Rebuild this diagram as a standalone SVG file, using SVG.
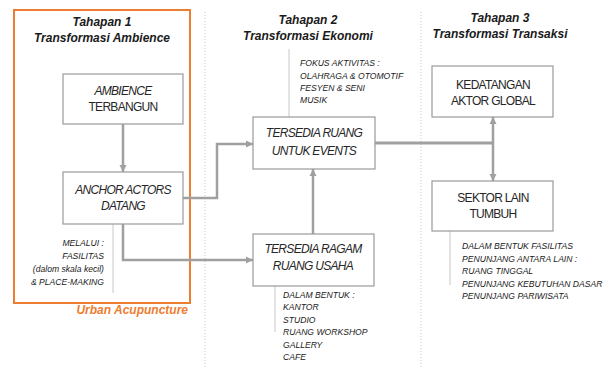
<svg xmlns="http://www.w3.org/2000/svg" width="611" height="369" viewBox="0 0 611 369">
<style>
.bg{fill:#fff}
.sep{stroke:#c8c8c8;stroke-width:1;stroke-dasharray:1 2;fill:none}
.box{fill:#fff;stroke:#9a9a9a;stroke-width:1.2}
.title{font-family:"Liberation Sans",Arial,sans-serif;font-weight:bold;font-style:italic;font-size:12px;fill:#1a1a1a;text-anchor:middle}
.bt{font-family:"Liberation Sans",Arial,sans-serif;font-size:12px;letter-spacing:-0.7px;fill:#262626;text-anchor:middle}
.it{font-style:italic}
.note{font-family:"Liberation Sans",Arial,sans-serif;font-style:italic;font-size:8.6px;fill:#1a1a1a}
.thin{stroke:#c8c8c8;stroke-width:1;fill:none}
.arr{stroke:#a0a0a0;stroke-width:2.5;fill:none}
.orange{fill:none;stroke:#ED7D31;stroke-width:2}
.ua{font-family:"Liberation Sans",Arial,sans-serif;font-weight:bold;font-style:italic;font-size:12px;fill:#ED7D31;text-anchor:end}
</style>
<defs>
<marker id="ah" markerUnits="userSpaceOnUse" markerWidth="8" markerHeight="8" refX="7" refY="4" orient="auto">
<path d="M0,0.5 L7,4 L0,7.5 z" fill="#a0a0a0"/>
</marker>
</defs>
<rect class="bg" x="0" y="0" width="611" height="369"/>
<line class="sep" x1="205" y1="12" x2="205" y2="369"/>
<line class="sep" x1="421" y1="12" x2="421" y2="369"/>

<g id="stage1">
<rect class="orange" x="14" y="10" width="176" height="293"/>
<text class="title" x="102" y="26">Tahapan 1</text>
<text class="title" x="102" y="42">Transformasi Ambience</text>
<text class="ua" x="188" y="314">Urban Acupuncture</text>
</g>
<g id="stage2">
<text class="title" x="308" y="24">Tahapan 2</text>
<text class="title" x="308" y="40">Transformasi Ekonomi</text>
</g>
<g id="stage3">
<text class="title" x="500" y="22">Tahapan 3</text>
<text class="title" x="500" y="38">Transformasi Transaksi</text>
</g>

<g id="connectors">
<line class="arr" x1="123" y1="124" x2="123" y2="172" marker-end="url(#ah)"/>
<path class="arr" d="M183,198 H217 V144 H253" marker-end="url(#ah)"/>
<path class="arr" d="M123,224 V260 H253" marker-end="url(#ah)"/>
<line class="arr" x1="313" y1="234" x2="313" y2="169" marker-end="url(#ah)"/>
<line class="arr" x1="375" y1="143" x2="494" y2="143" style="stroke-width:3"/>
<line class="arr" x1="493" y1="143" x2="493" y2="117" marker-end="url(#ah)"/>
<line class="arr" x1="493" y1="143" x2="493" y2="181" marker-end="url(#ah)"/>
<line class="thin" x1="113" y1="224" x2="113" y2="293"/>
<line class="thin" x1="289" y1="49" x2="289" y2="117"/>
<line class="thin" x1="275" y1="286" x2="275" y2="332"/>
<line class="thin" x1="450" y1="231" x2="450" y2="285"/>
</g>

<g id="ambience">
<rect class="box" x="63" y="74" width="120" height="50"/>
<text class="bt it" x="123" y="95">AMBIENCE</text>
<text class="bt" x="123" y="111">TERBANGUN</text>
</g>
<g id="anchor">
<rect class="box" x="63" y="172" width="120" height="52"/>
<text class="bt it" x="123" y="194">ANCHOR ACTORS</text>
<text class="bt it" x="123" y="210">DATANG</text>
</g>
<g id="melalui">
<text class="note" x="104" y="246" text-anchor="end">MELALUI :</text>
<text class="note" x="104" y="259" text-anchor="end">FASILITAS</text>
<text class="note" x="104" y="272" text-anchor="end">(dalom skala kecil)</text>
<text class="note" x="104" y="285" text-anchor="end">&amp; PLACE-MAKING</text>
</g>
<g id="ruang">
<rect class="box" x="253" y="117" width="122" height="52"/>
<text class="bt it" x="314" y="137">TERSEDIA RUANG</text>
<text class="bt it" x="314" y="155">UNTUK EVENTS</text>
</g>
<g id="fokus">
<text class="note" x="300" y="66">FOKUS AKTIVITAS :</text>
<text class="note" x="300" y="79">OLAHRAGA &amp; OTOMOTIF</text>
<text class="note" x="300" y="91">FESYEN &amp; SENI</text>
<text class="note" x="300" y="103">MUSIK</text>
</g>
<g id="ragam">
<rect class="box" x="253" y="234" width="121" height="52"/>
<text class="bt it" x="313" y="253">TERSEDIA RAGAM</text>
<text class="bt it" x="313" y="270">RUANG USAHA</text>
</g>
<g id="dalam">
<text class="note" x="283" y="298">DALAM BENTUK :</text>
<text class="note" x="283" y="310">KANTOR</text>
<text class="note" x="283" y="323">STUDIO</text>
<text class="note" x="283" y="335">RUANG WORKSHOP</text>
<text class="note" x="283" y="348">GALLERY</text>
<text class="note" x="283" y="360">CAFE</text>
</g>
<g id="kedatangan">
<rect class="box" x="432" y="66" width="121" height="51"/>
<text class="bt" x="493" y="89">KEDATANGAN</text>
<text class="bt" x="493" y="105">AKTOR GLOBAL</text>
</g>
<g id="sektor">
<rect class="box" x="432" y="181" width="121" height="50"/>
<text class="bt" x="493" y="202">SEKTOR LAIN</text>
<text class="bt" x="493" y="218">TUMBUH</text>
</g>
<g id="fasilitas">
<text class="note" x="462" y="249">DALAM BENTUK FASILITAS</text>
<text class="note" x="462" y="262">PENUNJANG ANTARA LAIN :</text>
<text class="note" x="462" y="274">RUANG TINGGAL</text>
<text class="note" x="462" y="287">PENUNJANG KEBUTUHAN DASAR</text>
<text class="note" x="462" y="299">PENUNJANG PARIWISATA</text>
</g>
</svg>
